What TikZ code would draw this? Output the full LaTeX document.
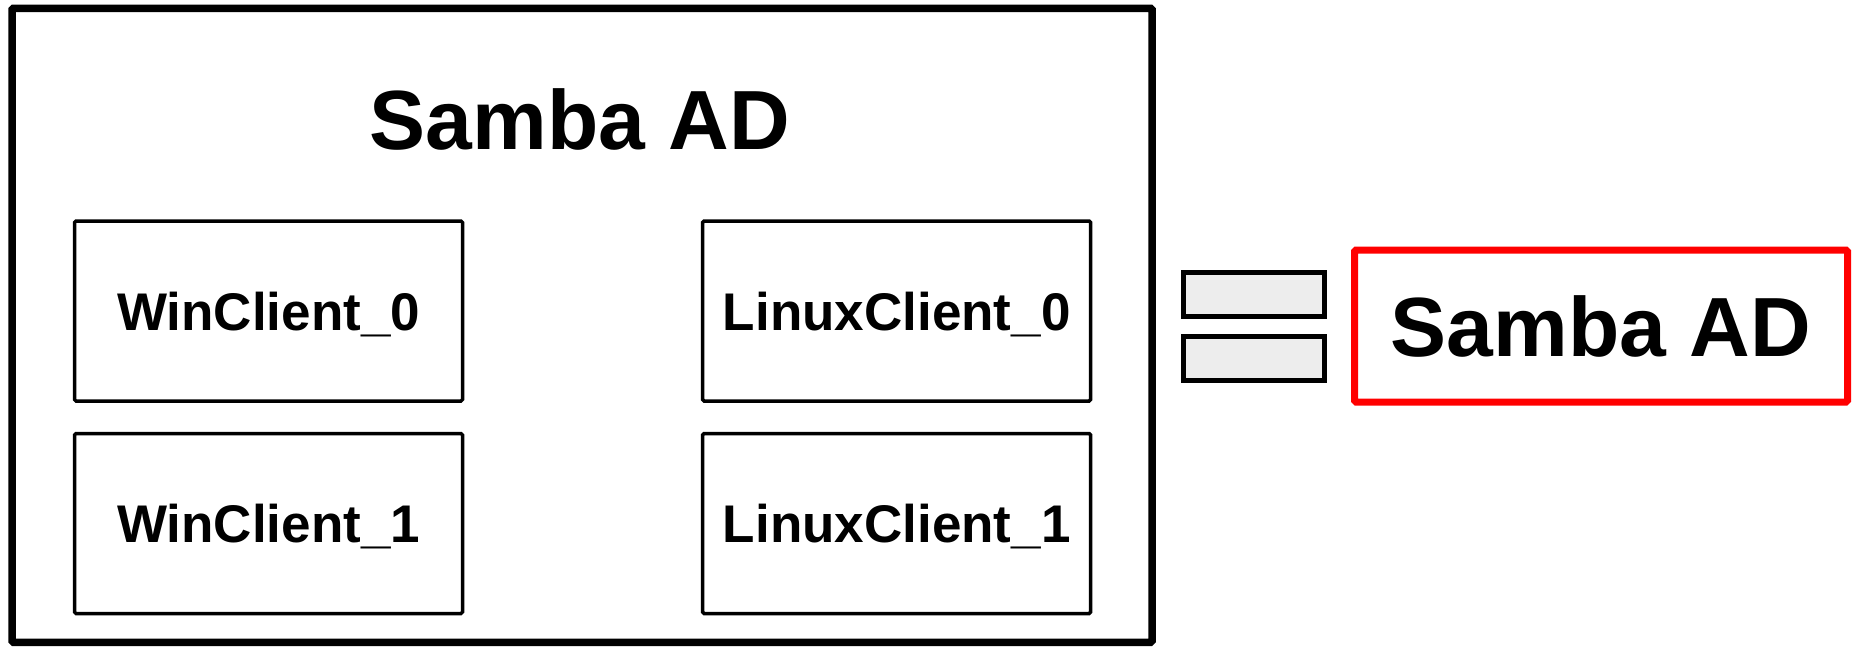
\documentclass[tikz,border=0pt]{standalone}
\usepackage{fontspec}
\setmainfont{Liberation Sans}
\begin{document}
\begin{tikzpicture}[x=1pt,y=-1pt,
  outerbox/.style={draw=black,line width=7.5pt,rounded corners=1.5pt,minimum width=1140pt,minimum height=634pt,inner sep=0pt},
  clientbox/.style={draw=black,line width=3.5pt,rounded corners=1.5pt,minimum width=388pt,minimum height=180pt,inner sep=0pt,text depth=0pt,font=\fontsize{53}{60}\selectfont\bfseries},
  eqbar/.style={draw=black,fill=black!7,line width=5pt,minimum width=141pt,minimum height=44pt,inner sep=0pt},
  redbox/.style={draw=red,line width=7pt,rounded corners=1.5pt,minimum width=493pt,minimum height=152pt,inner sep=0pt,font=\fontsize{84}{96}\selectfont\bfseries},
  titletext/.style={font=\fontsize{84}{96}\selectfont\bfseries,inner sep=0pt}]
\useasboundingbox (0,0) rectangle (1855,646);
\node[outerbox] (outer) at (582,325.3) {};
\node[titletext,anchor=base] (title) at (580,149) {Samba AD};
\node[clientbox] (win0) at (268.5,311) {WinClient\_0};
\node[clientbox] (win1) at (268.5,523.5) {WinClient\_1};
\node[clientbox] (lin0) at (896.7,311) {LinuxClient\_0};
\node[clientbox] (lin1) at (896.7,523.5) {LinuxClient\_1};
\node[eqbar] (eqtop) at (1253.5,294) {};
\node[eqbar] (eqbot) at (1253.5,358) {};
\node[redbox] (samba) at (1601,326) {Samba AD};
\end{tikzpicture}
\end{document}
